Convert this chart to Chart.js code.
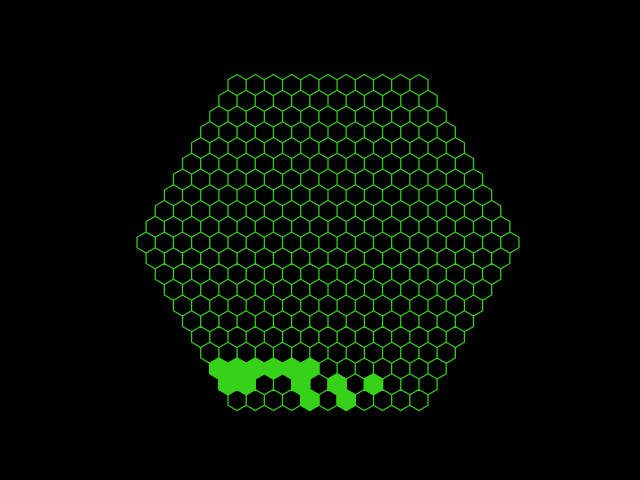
<!DOCTYPE html>
<html>
<head>
<meta charset="utf-8">
<script src="https://cdn.jsdelivr.net/npm/chart.js@4/dist/chart.umd.min.js"></script>
<style>
html,body{margin:0;padding:0;background:#000;}
#wrap{width:640px;height:480px;position:relative;}
</style>
</head>
<body>
<div id="wrap"><canvas id="c" width="640" height="480"></canvas></div>
<script>
// Hex board: radius (rings around centre) and the filled cells (row from top, index within row)
const gridRadius = 10;
const filledRows = [18, 18, 18, 18, 18, 18, 19, 19, 19, 19, 19, 20, 20];
const filledCols = [0, 1, 2, 3, 4, 5, 0, 1, 4, 6, 8, 4, 6];
const lineColor = '#36d21a';
const fillColor = '#36d21a';

const SQ3 = Math.sqrt(3);
function hexCenter(row, col) {
  const r = row - gridRadius;
  const n = 2 * gridRadius + 1 - Math.abs(r);
  return { x: SQ3 * (col - (n - 1) / 2), y: -1.5 * r };
}
function hexPoly(row, col) {
  const c = hexCenter(row, col);
  const pts = [];
  for (let i = 0; i <= 6; i++) {
    const a = Math.PI / 2 - i * Math.PI / 3;
    pts.push({ x: c.x + Math.cos(a), y: c.y + Math.sin(a) });
  }
  return pts;
}

const outline = [];
for (let row = 0; row <= 2 * gridRadius; row++) {
  const n = 2 * gridRadius + 1 - Math.abs(row - gridRadius);
  for (let col = 0; col < n; col++) {
    outline.push(...hexPoly(row, col));
    outline.push({ x: NaN, y: NaN });
  }
}

const datasets = [];
for (let i = 0; i < filledRows.length; i++) {
  datasets.push({
    data: hexPoly(filledRows[i], filledCols[i]),
    borderColor: fillColor,
    backgroundColor: fillColor,
    borderWidth: 1.25,
    fill: 'shape',
    pointRadius: 0,
    tension: 0
  });
}
datasets.push({
  data: outline,
  borderColor: lineColor,
  borderWidth: 1.25,
  fill: false,
  pointRadius: 0,
  spanGaps: false,
  tension: 0
});

const ppu = 10.5, cx = 328, cy = 242.5;
new Chart(document.getElementById('c'), {
  type: 'line',
  data: { datasets },
  options: {
    responsive: false,
    animation: false,
    parsing: false,
    normalized: true,
    layout: { padding: 0 },
    plugins: { legend: { display: false }, tooltip: { enabled: false } },
    scales: {
      x: { type: 'linear', display: false, min: -cx / ppu, max: (640 - cx) / ppu },
      y: { type: 'linear', display: false, min: -(480 - cy) / ppu, max: cy / ppu }
    }
  },
  plugins: [{
    id: 'bg',
    beforeDraw(chart) {
      const ctx = chart.ctx;
      ctx.save();
      ctx.fillStyle = '#000';
      ctx.fillRect(0, 0, chart.width, chart.height);
      ctx.restore();
    }
  }]
});
</script>
</body>
</html>
